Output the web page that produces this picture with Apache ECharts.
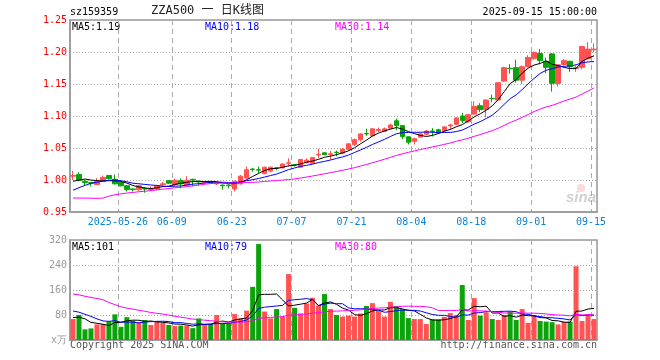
<!DOCTYPE html>
<html><head><meta charset="utf-8">
<script src="https://cdn.jsdelivr.net/npm/echarts@6/dist/echarts.min.js"></script>
<style>html,body{margin:0;padding:0;background:#fff}#c{width:660px;height:360px}</style>
</head><body><div id="c"></div>
<script>
// ---- data ----
const dates = [
 '2025-05-14','2025-05-15','2025-05-16','2025-05-19','2025-05-20','2025-05-21','2025-05-22','2025-05-23',
 '2025-05-26','2025-05-27','2025-05-28','2025-05-29','2025-05-30',
 '2025-06-03','2025-06-04','2025-06-05','2025-06-06',
 '2025-06-09','2025-06-10','2025-06-11','2025-06-12','2025-06-13',
 '2025-06-16','2025-06-17','2025-06-18','2025-06-19','2025-06-20',
 '2025-06-23','2025-06-24','2025-06-25','2025-06-26','2025-06-27','2025-06-30',
 '2025-07-01','2025-07-02','2025-07-03','2025-07-04',
 '2025-07-07','2025-07-08','2025-07-09','2025-07-10','2025-07-11',
 '2025-07-14','2025-07-15','2025-07-16','2025-07-17','2025-07-18',
 '2025-07-21','2025-07-22','2025-07-23','2025-07-24','2025-07-25',
 '2025-07-28','2025-07-29','2025-07-30','2025-07-31','2025-08-01',
 '2025-08-04','2025-08-05','2025-08-06','2025-08-07','2025-08-08',
 '2025-08-11','2025-08-12','2025-08-13','2025-08-14','2025-08-15',
 '2025-08-18','2025-08-19','2025-08-20','2025-08-21','2025-08-22',
 '2025-08-25','2025-08-26','2025-08-27','2025-08-28','2025-08-29',
 '2025-09-01','2025-09-02','2025-09-03','2025-09-04','2025-09-05',
 '2025-09-08','2025-09-09','2025-09-10','2025-09-11','2025-09-12',
 '2025-09-15'
];
const opens = [
 1.006,1.0085,0.998,0.996,0.993,0.998,1.007,1.001,0.996,0.991,
 0.986,0.985,0.9865,0.985,0.986,0.993,0.999,0.993,0.999,0.992,
 1.001,0.998,0.996,0.9965,0.994,0.992,0.992,0.986,0.994,1.003,
 1.017,1.016,1.010,1.014,1.019,1.019,1.026,1.024,1.020,1.027,
 1.026,1.039,1.0425,1.040,1.0435,1.042,1.048,1.0555,1.063,1.0725,
 1.069,1.077,1.076,1.081,1.0925,1.085,1.0675,1.0605,1.067,1.0715,
 1.0765,1.0785,1.077,1.0845,1.087,1.100,1.091,1.103,1.116,1.110,
 1.1275,1.125,1.1545,1.1745,1.1755,1.156,1.177,1.190,1.1975,1.1855,
 1.197,1.151,1.1805,1.1855,1.1745,1.176,1.1895,1.2035
];
const closes = [
 1.007,0.9995,0.996,0.995,0.998,1.004,1.002,0.994,0.991,0.985,
 0.985,0.991,0.986,0.986,0.991,0.994,0.995,0.9995,0.994,0.9995,
 1.000,0.997,0.997,0.996,0.996,0.991,0.991,0.998,1.006,1.016,
 1.0165,1.0155,1.020,1.020,1.0185,1.025,1.027,1.0235,1.032,1.031,
 1.035,1.040,1.0395,1.041,1.043,1.048,1.0565,1.063,1.072,1.072,
 1.080,1.079,1.080,1.086,1.085,1.068,1.059,1.0645,1.072,1.0765,
 1.076,1.0735,1.083,1.086,1.097,1.093,1.102,1.115,1.110,1.125,
 1.127,1.152,1.1755,1.174,1.156,1.177,1.1915,1.1995,1.1865,1.176,
 1.151,1.180,1.1865,1.177,1.1755,1.2085,1.2045,1.2045
];
const lows = [
 1.000,0.998,0.991,0.990,0.992,0.997,1.001,0.993,0.990,0.982,
 0.982,0.983,0.980,0.983,0.984,0.990,0.994,0.990,0.987,0.991,
 0.990,0.991,0.994,0.994,0.992,0.985,0.987,0.982,0.993,1.002,
 1.013,1.011,1.009,1.012,1.015,1.018,1.021,1.021,1.019,1.026,
 1.025,1.034,1.039,1.032,1.037,1.040,1.046,1.053,1.060,1.069,
 1.068,1.075,1.075,1.080,1.078,1.064,1.0555,1.0555,1.066,1.070,
 1.068,1.073,1.075,1.079,1.086,1.089,1.089,1.102,1.106,1.098,
 1.1215,1.124,1.153,1.166,1.1525,1.150,1.176,1.188,1.181,1.167,
 1.138,1.146,1.179,1.169,1.169,1.173,1.188,1.1995
];
const highs = [
 1.014,1.012,1.000,0.997,1.003,1.007,1.008,1.0085,0.997,0.992,
 0.987,0.992,0.989,0.990,0.992,0.997,1.000,1.002,1.0025,1.006,
 1.002,0.999,0.998,0.998,0.997,0.993,0.993,0.999,1.008,1.021,
 1.019,1.021,1.021,1.021,1.020,1.026,1.034,1.025,1.033,1.034,
 1.036,1.049,1.043,1.0455,1.046,1.050,1.057,1.065,1.073,1.080,
 1.081,1.082,1.082,1.088,1.096,1.086,1.068,1.066,1.073,1.078,
 1.081,1.080,1.084,1.088,1.098,1.105,1.103,1.123,1.120,1.126,
 1.1335,1.153,1.177,1.181,1.188,1.179,1.195,1.2005,1.2045,1.191,
 1.1985,1.181,1.189,1.186,1.179,1.2095,1.2155,1.2135
];
// volume, in 万
const volumes = [
 67,80,34,37,50,51,59,82,42,73,
 62,57,64,48,59,55,48,45,46,46,
 38,69,50,51,80,53,53,83,69,94,
 170,307,91,69,99,75,211,103,85,117,
 135,110,147,99,80,75,78,75,85,109,
 118,93,75,122,109,98,70,67,67,51,
 66,66,74,86,80,176,64,134,78,89,
 67,64,80,91,64,99,55,80,61,59,
 57,50,58,59,236,61,82,67
];
// sessions before the visible window (estimated from where the MA lines start)
const priorCloses = [
 1.000,0.998,1.001,1.002,0.996,0.910,0.930,0.945,0.950,0.955,
 0.960,0.960,0.957,0.958,0.960,0.965,0.965,0.968,0.967,0.968,
 0.960,0.960,0.963,0.980,0.987,0.990,0.988,1.003,1.002
];
const priorVolumes = [
 160,170,150,150,170,330,280,250,200,160,
 170,160,160,140,130,150,140,150,130,135,
 120,100,105,130,115,75,60,95,63
];
const maPeriods = [5, 10, 30];
const maColors = ['#000000', '#0000ff', '#ff00ff'];
const labelDates = ['2025-05-26','2025-06-09','2025-06-23','2025-07-07','2025-07-21','2025-08-04','2025-08-18','2025-09-01','2025-09-15'];
const priceTicks = {min: 0.95, max: 1.25, step: 0.05};
const volumeTicks = {min: 0, max: 320, step: 80};
const upColor = '#ff5353', downColor = '#0aa30a';

// ---- build ----
function movingAverage(prior, values, n) {
  const all = prior.concat(values);
  return values.map((_, i) => {
    const end = prior.length + i;
    let s = 0;
    for (let k = end - n + 1; k <= end; k++) s += all[k];
    return s / n;
  });
}
const priceMA = maPeriods.map(n => movingAverage(priorCloses, closes, n));
const volMA = maPeriods.map(n => movingAverage(priorVolumes, volumes, n));
const labelIdx = new Set(labelDates.map(d => dates.indexOf(d)));
const isLabel = (i) => labelIdx.has(i);
const firstLabel = Math.min(...labelIdx);
const mono = 'DejaVu Sans Mono';

const candleData = dates.map((d, i) => [opens[i], closes[i], lows[i], highs[i]]);
const volData = volumes.map((v, i) => ({value: v, itemStyle: {color: closes[i] >= opens[i] ? upColor : downColor}}));
const last = a => a[a.length - 1];
const trunc = (v, d) => (Math.floor(v * Math.pow(10, d) + 1e-9) / Math.pow(10, d)).toFixed(d);

const xCommon = (grid, showLabel) => ({
  type: 'category', gridIndex: grid, data: dates, boundaryGap: true,
  axisLine: {show: true, lineStyle: {color: '#999', width: 1.5}},
  axisTick: {show: false},
  axisLabel: {
    show: showLabel, interval: (i) => isLabel(i), color: '#0a84d6',
    fontFamily: mono, fontSize: 10, margin: 5, padding: [0, 6, 0, 0],
    formatter: (v, i) => i === firstLabel ? v : v.slice(5)
  },
  splitLine: {show: true, interval: (i) => isLabel(i), lineStyle: {color: '#aaa', width: 1, type: [5, 4]}}
});

const series = [{
  type: 'candlestick', xAxisIndex: 0, yAxisIndex: 0, data: candleData, barWidth: 5,
  itemStyle: {color: upColor, color0: downColor, borderColor: upColor, borderColor0: downColor, borderWidth: 1}
}];
maPeriods.forEach((n, k) => series.push({
  type: 'line', xAxisIndex: 0, yAxisIndex: 0, data: priceMA[k], symbol: 'none', smooth: false,
  lineStyle: {color: maColors[k], width: 1}, z: 3
}));
series.push({type: 'bar', xAxisIndex: 1, yAxisIndex: 1, data: volData, barWidth: 5});
maPeriods.forEach((n, k) => series.push({
  type: 'line', xAxisIndex: 1, yAxisIndex: 1, data: volMA[k], symbol: 'none',
  lineStyle: {color: maColors[k], width: 1}, z: 3
}));

const legendX = [72, 205, 335];
const graphics = [
  {type: 'text', left: 70, top: 7, style: {text: 'sz159359', font: '10px ' + mono, fill: '#000'}},
  {type: 'text', left: 151, top: 5, style: {text: 'ZZA500 一 日K线图', font: '12px "DejaVu Sans Mono","Noto Sans CJK SC"', fill: '#222'}},
  {type: 'text', right: 63, top: 7, style: {text: '2025-09-15 15:00:00', font: '10px ' + mono, fill: '#000'}},
  {type: 'text', left: 70, top: 340, style: {text: 'Copyright 2025 SINA.COM', font: '10px ' + mono, fill: '#555'}},
  {type: 'text', right: 63, top: 340, style: {text: 'http://finance.sina.com.cn', font: '10px ' + mono, fill: '#555'}},
  {type: 'circle', shape: {cx: 581, cy: 188, r: 4}, style: {fill: 'rgba(240,150,150,0.35)'}, silent: true},
  {type: 'text', left: 566, top: 190, style: {text: 'sina', font: 'italic bold 15px "Liberation Sans"', fill: 'rgba(170,170,170,0.55)'}}
];
maPeriods.forEach((n, k) => {
  graphics.push({type: 'text', left: legendX[k], top: 22,
    style: {text: 'MA' + n + ':' + trunc(last(priceMA[k]), 2), font: '10px ' + mono, fill: maColors[k]}});
  graphics.push({type: 'text', left: legendX[k], top: 242,
    style: {text: 'MA' + n + ':' + Math.floor(last(volMA[k]) + 1e-9), font: '10px ' + mono, fill: maColors[k]}});
});

const chart = echarts.init(document.getElementById('c'), null, {renderer: 'canvas', width: 660, height: 360});
chart.setOption({
  animation: false,
  backgroundColor: '#fff',
  grid: [
    {left: 70, top: 20, width: 527, height: 192, show: true, borderColor: '#999', borderWidth: 1.5, backgroundColor: 'transparent'},
    {left: 70, top: 240, width: 527, height: 100, show: true, borderColor: '#999', borderWidth: 1.5, backgroundColor: 'transparent'}
  ],
  xAxis: [xCommon(0, true), xCommon(1, false)],
  yAxis: [
    {type: 'value', gridIndex: 0, min: priceTicks.min, max: priceTicks.max, interval: priceTicks.step, scale: true,
     axisLine: {show: true, lineStyle: {color: '#999', width: 1.5}}, axisTick: {show: false},
     axisLabel: {color: '#ff0000', fontFamily: mono, fontSize: 10, margin: 3, formatter: v => v.toFixed(2)},
     splitLine: {show: true, lineStyle: {color: '#aaa', width: 1, type: [1, 2]}}},
    {type: 'value', gridIndex: 1, min: volumeTicks.min, max: volumeTicks.max, interval: volumeTicks.step,
     axisLine: {show: true, lineStyle: {color: '#999', width: 1.5}}, axisTick: {show: false},
     axisLabel: {color: '#999', fontFamily: mono, fontSize: 10, margin: 3, formatter: v => v === 0 ? 'x万' : String(v)},
     splitLine: {show: true, lineStyle: {color: '#aaa', width: 1, type: [1, 2]}}}
  ],
  graphic: graphics,
  series: series
});
</script>
</body></html>
